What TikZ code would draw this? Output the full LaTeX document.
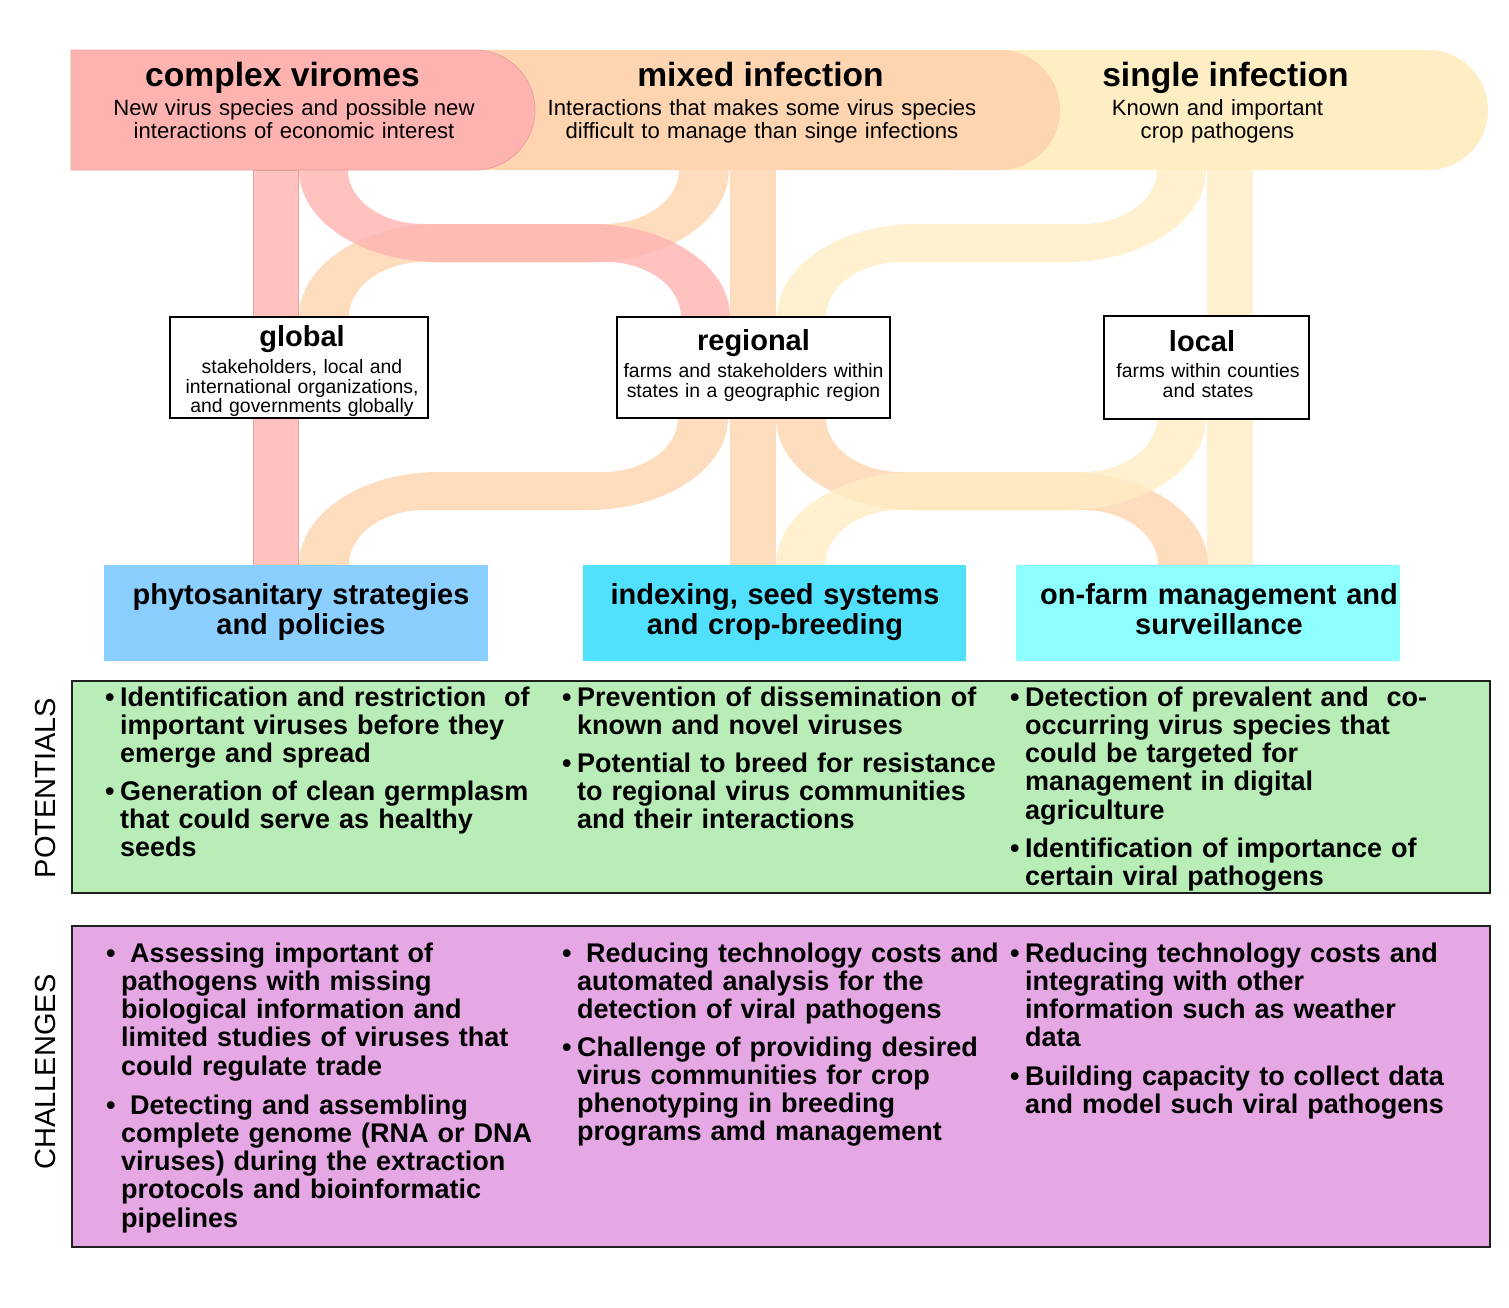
\documentclass[tikz,border=0pt]{standalone}
\usepackage{fontspec}
\setmainfont{Liberation Sans}
\definecolor{cred}{HTML}{FFB3B0}
\definecolor{cora}{HTML}{FED5B0}
\definecolor{cyel}{HTML}{FFEDC4}
\definecolor{cphy}{HTML}{8ACFFF}
\definecolor{cidx}{HTML}{52E0FF}
\definecolor{cfarm}{HTML}{8DFFFF}
\definecolor{cpot}{HTML}{B8EDB8}
\definecolor{ccha}{HTML}{E6A8E4}
\definecolor{credge}{HTML}{E8A29E}
% rightward ribbon: #1 top-left x, #2 bottom-left x, #3 width, #4 top y, #5 style
\newcommand{\ribR}[5]{%
\fill[#5] (#1,#4) .. controls (#1,{#4+50.8}) and ({#1+62.7},{#4+92}) .. ({#1+140},{#4+92})
 -- ({#2-75},{#4+92}) .. controls ({#2-33.6},{#4+92}) and (#2,{#4+116.6}) .. (#2,{#4+147})
 -- ({#2+#3},{#4+147}) .. controls ({#2+#3},{#4+95.7}) and ({#2+#3-62.7},{#4+54}) .. ({#2+#3-140},{#4+54})
 -- ({#1+#3+75},{#4+54}) .. controls ({#1+#3+33.6},{#4+54}) and ({#1+#3},{#4+29.8}) .. ({#1+#3},#4) -- cycle;}
% leftward ribbon
\newcommand{\ribL}[5]{%
\fill[#5] (#1,#4) .. controls (#1,{#4+29.8}) and ({#1-33.6},{#4+54}) .. ({#1-75},{#4+54})
 -- ({#2+140},{#4+54}) .. controls ({#2+62.7},{#4+54}) and (#2,{#4+95.7}) .. (#2,{#4+147})
 -- ({#2+#3},{#4+147}) .. controls ({#2+#3},{#4+116.6}) and ({#2+#3+33.6},{#4+92}) .. ({#2+#3+75},{#4+92})
 -- ({#1+#3-140},{#4+92}) .. controls ({#1+#3-62.7},{#4+92}) and ({#1+#3},{#4+50.8}) .. ({#1+#3},#4) -- cycle;}
\newcommand{\bul}{\rule{0pt}{24pt}\llap{\makebox[15pt][l]{•}}}
\begin{document}
\begin{tikzpicture}[x=1pt,y=-1pt,
  rred/.style={cred,fill opacity=.8},
  rora/.style={cora,fill opacity=.8},
  ryel/.style={cyel,fill opacity=.8},
  ttl/.style={font=\fontsize{33.6}{36}\selectfont\bfseries, anchor=base, inner sep=0},
  sub/.style={font=\fontsize{22.1}{23.5}\selectfont, anchor=north, inner sep=0, align=center, text width=520pt},
  lvl/.style={draw=black, line width=1.8pt, fill=white, inner sep=0},
  lvltitle/.style={font=\fontsize{29}{30}\selectfont\bfseries, anchor=base, inner sep=0},
  lvltext/.style={font=\fontsize{19.4}{19.8}\selectfont, anchor=north, inner sep=0, align=center, text width=320pt},
  actbox/.style={inner sep=0, draw=none},
  acttext/.style={font=\fontsize{29}{30}\selectfont\bfseries, anchor=north, align=center, text width=420pt, inner sep=0},
  item/.style={font=\fontsize{27}{28.2}\selectfont\bfseries, anchor=north west, inner sep=0, text width=460pt, align=left},
  side/.style={font=\fontsize{29}{30}\selectfont, rotate=90, anchor=center, inner sep=0},
  panel/.style={draw=black!88, line width=2.5pt, inner sep=0}
]
\useasboundingbox (0,0) rectangle (1509,1307);
\fill[white] (0,0) rectangle (1509,1307);

% ---- ribbons: straight strips
\fill[rred, draw=credge, line width=.8pt] (253,170) rectangle (298,565);
\fill[rora] (730,170) rectangle (776,565);
\fill[ryel] (1207,170) rectangle (1253,565);
% ---- ribbons: top section
\ribL{679}{299}{50}{170}{rora}
\ribR{299}{681}{49}{170}{rred}
\ribL{1157}{777}{49}{170}{ryel}
% ---- ribbons: bottom section
\ribL{678}{299}{50}{418}{rora}
\ribR{776}{1158}{50}{418}{rora}
\ribL{1157}{776}{49}{418}{ryel}

% ---- top bar
\fill[cyel] (950,50) -- (1428,50) .. controls (1461.1,50) and (1488,76.9) .. (1488,110)
  .. controls (1488,143.1) and (1461.1,170) .. (1428,170) -- (950,170) -- cycle;
\fill[cora] (450,50) -- (1000,50) .. controls (1033.1,50) and (1060,76.9) .. (1060,110)
  .. controls (1060,143.1) and (1033.1,170) .. (1000,170) -- (450,170) -- cycle;
\filldraw[fill=cred, draw=credge, line width=.8pt] (71,50) -- (475,50) .. controls (508.1,50) and (535,76.9) .. (535,110)
  .. controls (535,143.1) and (508.1,170) .. (475,170) -- (71,170) -- cycle;

\node[ttl] (cvT) at (282.5,86) {complex viromes};
\node[sub] (cvS) at (294,99) {New virus species and possible new\\interactions of economic interest};
\node[ttl] (miT) at (760.5,86) {mixed infection};
\node[sub] (miS) at (762,99) {Interactions that makes some virus species\\difficult to manage than singe infections};
\node[ttl] (siT) at (1225.5,86) {single infection};
\node[sub] (siS) at (1217.5,99) {Known and important\\crop pathogens};

% ---- level boxes
\node[lvl, minimum width=258pt, minimum height=101pt] (global) at (299,367.5) {};
\node[lvltitle] (globalT) at (302,346) {global};
\node[lvltext] (globalS) at (302,359) {stakeholders, local and\\international organizations,\\and governments globally};
\node[lvl, minimum width=273pt, minimum height=101pt] (regional) at (753.5,367.5) {};
\node[lvltitle] (regionalT) at (753.5,350) {regional};
\node[lvltext] (regionalS) at (753.5,363.5) {farms and stakeholders within\\states in a geographic region};
\node[lvl, minimum width=205pt, minimum height=103pt] (local) at (1206.5,367.5) {};
\node[lvltitle] (localT) at (1202,351) {local};
\node[lvltext] (localS) at (1208,363.5) {farms within counties\\and states};

% ---- action boxes
\node[actbox, fill=cphy, minimum width=384pt, minimum height=96pt] (phyto) at (296,613) {};
\node[acttext] (phytoT) at (301,582.8) {phytosanitary strategies\\and policies};
\node[actbox, fill=cidx, minimum width=383pt, minimum height=96pt] (index) at (774.5,613) {};
\node[acttext] (indexT) at (775,582.8) {indexing, seed systems\\and crop-breeding};
\node[actbox, fill=cfarm, minimum width=384pt, minimum height=96pt] (farm) at (1208,613) {};
\node[acttext] (farmT) at (1219,582.8) {on-farm management and\\surveillance};

% ---- panels
\node[panel, fill=cpot, minimum width=1418pt, minimum height=212pt] (pot) at (781,787) {};
\node[panel, fill=ccha, minimum width=1418pt, minimum height=321pt] (cha) at (781,1086.5) {};
\node[side] (potL) at (46,788) {POTENTIALS};
\node[side] (chaL) at (46,1072) {CHALLENGES};

% ---- potentials items
\node[item] (p1a) at (120,682) {\bul Identification and restriction\ \ of\\important viruses before they\\emerge and spread};
\node[item] (p1b) at (120,776) {\bul Generation of clean germplasm\\that could serve as healthy\\seeds};
\node[item] (p2a) at (577,682) {\bul Prevention of dissemination of\\known and novel viruses};
\node[item] (p2b) at (577,748) {\bul Potential to breed for resistance\\to regional virus communities\\and their interactions};
\node[item] (p3a) at (1025,682) {\bul Detection of prevalent and\ \ co-\\occurring virus species that\\could be targeted for\\management in digital\\agriculture};
\node[item] (p3b) at (1025,833) {\bul Identification of importance of\\certain viral pathogens};

% ---- challenges items
\node[item] (c1a) at (121,938) {\bul\ Assessing important of\\pathogens with missing\\biological information and\\limited studies of viruses that\\could regulate trade};
\node[item] (c1b) at (121,1090) {\bul\ Detecting and assembling\\complete genome (RNA or DNA\\viruses) during the extraction\\protocols and bioinformatic\\pipelines};
\node[item] (c2a) at (577,938) {\bul\ Reducing technology costs and\\automated analysis for the\\detection of viral pathogens};
\node[item] (c2b) at (577,1032) {\bul Challenge of providing desired\\virus communities for crop\\phenotyping in breeding\\programs amd management};
\node[item] (c3a) at (1025,938) {\bul Reducing technology costs and\\integrating with other\\information such as weather\\data};
\node[item] (c3b) at (1025,1061) {\bul Building capacity to collect data\\and model such viral pathogens};
\end{tikzpicture}
\end{document}
